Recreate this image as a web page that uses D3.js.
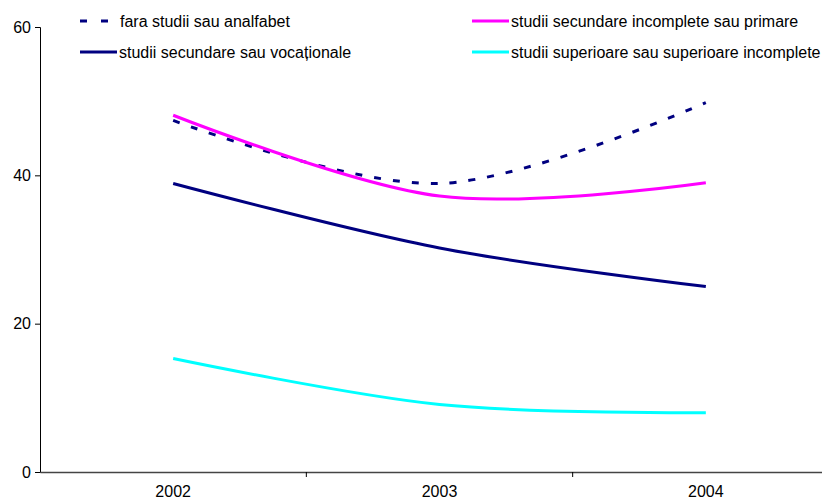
<!DOCTYPE html>
<html>
<head>
<meta charset="utf-8">
<script src="https://cdn.jsdelivr.net/npm/d3@7"></script>
<style>
  body { margin: 0; background: #fff; }
  svg { display: block; font-family: "Liberation Sans", Arial, sans-serif; }
</style>
</head>
<body>
<div class="container"></div>
<script>
// data
const years = ["2002", "2003", "2004"];
const faraStudii = [47.4, 38.9, 49.8];
const secIncomplete = [48.1, 37.2, 39.0];
const secVocational = [38.9, 30.2, 25.0];
const superioare = [15.3, 9.1, 8.0];
const yTicks = [0, 20, 40, 60];

const series = [
  { name: "fara studii sau analfabet", values: faraStudii, color: "#000080", dash: "7,12", lx: 80, ly: 21 },
  { name: "studii secundare incomplete sau primare", values: secIncomplete, color: "#FF00FF", dash: null, lx: 472, ly: 21 },
  { name: "studii secundare sau vocaționale", values: secVocational, color: "#000080", dash: null, lx: 80, ly: 52 },
  { name: "studii superioare sau superioare incomplete", values: superioare, color: "#00FFFF", dash: null, lx: 472, ly: 52 }
];

const width = 822, height = 502;
const svg = d3.select(".container").append("svg")
  .attr("width", width)
  .attr("height", height);

// scales
const x = d3.scaleBand().domain(years).range([40, 839]);
const y = d3.scaleLinear().domain([0, 60]).range([472, 27]);

// axes
const yAxis = svg.append("g")
  .attr("transform", "translate(40,0)")
  .call(d3.axisLeft(y).tickValues(yTicks).tickSize(5).tickPadding(4));
yAxis.select(".domain").attr("stroke", "#000");
yAxis.selectAll("text").style("font-size", "16px").attr("fill", "#000");

const xAxis = svg.append("g")
  .attr("transform", "translate(0,472)")
  .call(d3.axisBottom(x).tickSize(0).tickPadding(14));
xAxis.select(".domain").attr("stroke", "#444").attr("stroke-width", 1.3);
xAxis.selectAll("text").style("font-size", "16px").attr("fill", "#000");

// band boundary ticks
svg.append("g").selectAll("line")
  .data(years.slice(1))
  .join("line")
  .attr("x1", d => x(d)).attr("x2", d => x(d))
  .attr("y1", 472).attr("y2", 477)
  .attr("stroke", "#000");

// lines
const line = d3.line()
  .x((d, i) => x(years[i]) + x.bandwidth() / 2)
  .y(d => y(d))
  .curve(d3.curveCardinal.tension(0));

svg.append("g").selectAll("path")
  .data(series)
  .join("path")
  .attr("d", d => line(d.values))
  .attr("fill", "none")
  .attr("stroke", d => d.color)
  .attr("stroke-width", 3)
  .attr("stroke-dasharray", d => d.dash);

// legend
const legend = svg.append("g").selectAll("g")
  .data(series)
  .join("g")
  .attr("transform", d => `translate(${d.lx},${d.ly})`);

legend.append("line")
  .attr("x1", 0).attr("x2", d => d.dash ? 36 : 37)
  .attr("stroke", d => d.color)
  .attr("stroke-width", 3)
  .attr("stroke-dasharray", d => d.dash ? "7,14" : null);

legend.append("text")
  .attr("x", d => d.dash ? 40 : 39)
  .attr("dy", "0.35em")
  .style("font-size", "16px")
  .text(d => d.name);
</script>
</body>
</html>
